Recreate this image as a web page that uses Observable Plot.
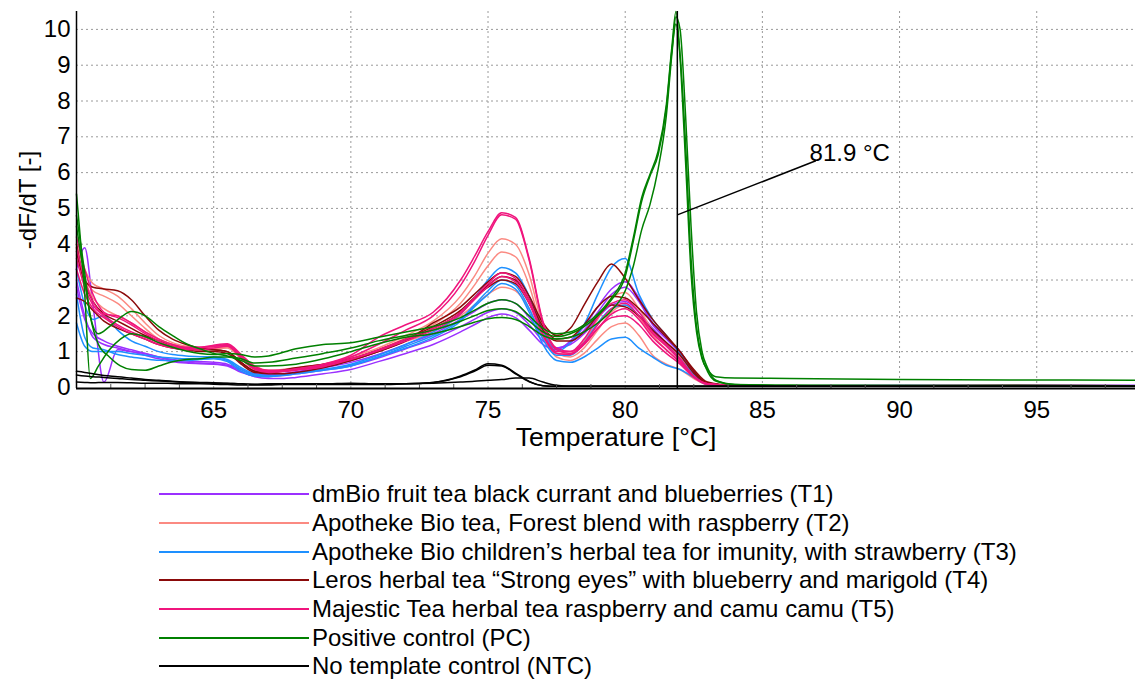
<!DOCTYPE html>
<html><head><meta charset="utf-8">
<script src="https://cdn.jsdelivr.net/npm/d3@7"></script>
<script src="https://cdn.jsdelivr.net/npm/@observablehq/plot@0.6"></script>
<style>
body{margin:0;background:#fff;font-family:"Liberation Sans",Arial,sans-serif;}
#legend{margin-top:20px;}
.row{display:flex;align-items:center;height:28.7px;font-size:24px;color:#000;white-space:nowrap;}
.sw{width:150px;height:2px;margin-left:159px;margin-right:3px;}
</style></head><body>
<div id="chart"></div>
<div id="legend"></div>
<script>
// ---- tick labels / categories ----
const xTicks = [65, 70, 75, 80, 85, 90, 95];
const yTicks = [0, 1, 2, 3, 4, 5, 6, 7, 8, 9, 10];
const minorTicks = [61.25, 62.5, 63.75, 66.25, 67.5, 68.75, 71.25, 72.5, 73.75, 76.25, 77.5, 78.75, 81.25, 82.5, 83.75, 86.25, 87.5, 88.75, 91.25, 92.5, 93.75, 96.25, 97.5];
const xLabel = "Temperature [\u00b0C]";
const yLabel = "-dF/dT [-]";
const groups = [
  "dmBio fruit tea black currant and blueberries (T1)",
  "Apotheke Bio tea, Forest blend with raspberry (T2)",
  "Apotheke Bio children\u2019s herbal tea for imunity, with strawberry (T3)",
  "Leros herbal tea \u201cStrong eyes\u201d with blueberry and marigold (T4)",
  "Majestic Tea herbal tea raspberry and camu camu (T5)",
  "Positive control (PC)",
  "No template control (NTC)"
];
const colors = ["#9b30ff", "#fb8a82", "#1e90ff", "#8b0a0a", "#f0157d", "#008000", "#000000"];

// ---- temperature grids ----
const temps = [60, 60.3, 60.6, 61, 61.5, 62, 62.5, 63, 63.5, 64, 64.5, 65, 65.5, 66, 66.5, 67, 67.5, 68, 69, 70, 71, 72, 73, 74, 74.5, 75, 75.5, 76, 76.5, 77, 77.5, 78, 78.5, 79, 79.5, 80, 80.5, 81, 81.5, 82, 82.5, 83, 84, 86, 90, 94, 98.6];
const pcTemps = [60, 60.3, 60.5, 60.8, 61.2, 61.6, 62, 62.5, 63, 63.5, 64, 64.5, 65, 65.5, 66, 66.5, 67, 68, 69, 70, 71, 72, 73, 74, 74.5, 75, 75.5, 76, 76.5, 77, 77.5, 78, 78.5, 79, 79.5, 80, 80.3, 80.6, 80.9, 81.2, 81.5, 81.7, 81.85, 82.0, 82.2, 82.4, 82.6, 82.8, 83.0, 83.3, 84, 86, 90, 94, 98.6];

// ---- series values (-dF/dT) ----
const t1a = [3.3, 3.9, 2.3, 0.15, 1.05, 1.0, 0.95, 0.85, 0.75, 0.7, 0.68, 0.66, 0.62, 0.45, 0.3, 0.25, 0.25, 0.28, 0.38, 0.5, 0.72, 0.95, 1.2, 1.55, 1.75, 1.95, 2.05, 1.95, 1.6, 1.2, 1.05, 1.3, 1.7, 2.25, 2.75, 2.95, 2.5, 1.8, 1.4, 1.0, 0.45, 0.12, 0.05, 0.05, 0.06, 0.05, 0.06];
const t1b = [3.0, 2.0, 1.4, 1.2, 1.1, 1.0, 0.9, 0.8, 0.72, 0.68, 0.66, 0.65, 0.6, 0.42, 0.32, 0.3, 0.33, 0.38, 0.48, 0.6, 0.82, 1.08, 1.35, 1.7, 1.9, 2.1, 2.2, 2.1, 1.75, 1.3, 1.1, 1.25, 1.6, 2.1, 2.6, 2.8, 2.4, 1.75, 1.35, 0.95, 0.42, 0.12, 0.05, 0.04, 0.05, 0.06, 0.05];
const t1c = [2.8, 1.9, 1.5, 1.3, 1.15, 1.05, 0.95, 0.85, 0.78, 0.74, 0.72, 0.7, 0.65, 0.5, 0.38, 0.36, 0.38, 0.44, 0.55, 0.7, 0.92, 1.2, 1.5, 1.9, 2.12, 2.35, 2.45, 2.35, 1.95, 1.4, 1.1, 1.2, 1.5, 1.95, 2.3, 2.4, 2.1, 1.65, 1.25, 0.85, 0.38, 0.1, 0.05, 0.05, 0.05, 0.05, 0.05];
const t2a = [4.0, 3.3, 2.9, 2.75, 2.55, 2.2, 1.8, 1.45, 1.25, 1.15, 1.1, 1.12, 1.18, 0.9, 0.6, 0.48, 0.48, 0.52, 0.65, 0.85, 1.1, 1.45, 1.85, 2.55, 3.1, 3.75, 4.15, 4.0, 3.15, 1.7, 0.95, 0.85, 1.1, 1.6, 2.1, 2.3, 1.95, 1.45, 1.05, 0.7, 0.3, 0.1, 0.05, 0.05, 0.05, 0.05, 0.05];
const t2b = [3.7, 3.0, 2.7, 2.55, 2.35, 2.0, 1.65, 1.35, 1.2, 1.12, 1.08, 1.1, 1.12, 0.82, 0.52, 0.45, 0.46, 0.5, 0.62, 0.8, 1.05, 1.38, 1.75, 2.35, 2.85, 3.4, 3.78, 3.65, 2.85, 1.55, 0.85, 0.75, 0.95, 1.35, 1.7, 1.8, 1.45, 0.9, 0.65, 0.5, 0.25, 0.08, 0.05, 0.05, 0.05, 0.05, 0.05];
const t2c = [3.9, 3.0, 2.5, 2.2, 2.0, 1.8, 1.55, 1.35, 1.2, 1.1, 1.05, 1.08, 1.1, 0.8, 0.5, 0.45, 0.5, 0.55, 0.65, 0.8, 1.02, 1.28, 1.55, 2.0, 2.3, 2.6, 2.8, 2.7, 2.2, 1.4, 0.95, 0.95, 1.3, 1.9, 2.5, 2.65, 2.2, 1.6, 1.2, 0.85, 0.35, 0.1, 0.05, 0.05, 0.05, 0.05, 0.05];
const t3a = [3.3, 2.3, 1.9, 2.0, 1.6, 1.3, 1.15, 1.0, 0.92, 0.88, 0.86, 0.85, 0.78, 0.55, 0.38, 0.33, 0.35, 0.4, 0.5, 0.65, 0.9, 1.2, 1.55, 2.05, 2.5, 3.0, 3.35, 3.2, 2.55, 1.6, 1.0, 1.25, 1.75, 2.6, 3.35, 3.6, 2.6, 1.9, 1.45, 0.95, 0.4, 0.12, 0.05, 0.04, 0.04, 0.05, 0.05];
const t3b = [1.8, 1.15, 1.0, 1.0, 1.0, 0.95, 0.9, 0.85, 0.82, 0.8, 0.8, 0.82, 0.75, 0.5, 0.35, 0.32, 0.35, 0.4, 0.5, 0.62, 0.85, 1.15, 1.45, 1.9, 2.3, 2.7, 3.0, 2.85, 2.2, 1.35, 0.9, 0.9, 1.25, 1.8, 2.2, 2.3, 2.0, 1.6, 1.2, 0.8, 0.35, 0.1, 0.05, 0.04, 0.05, 0.05, 0.05];
const t3c = [2.6, 1.4, 1.1, 1.05, 0.92, 0.85, 0.8, 0.76, 0.75, 0.75, 0.78, 0.8, 0.72, 0.45, 0.32, 0.3, 0.33, 0.38, 0.48, 0.6, 0.85, 1.1, 1.4, 1.85, 2.25, 2.6, 2.9, 2.75, 2.1, 1.2, 0.75, 0.7, 0.85, 1.1, 1.35, 1.4, 1.1, 0.85, 0.62, 0.5, 0.28, 0.08, 0.05, 0.04, 0.05, 0.05, 0.05];
const t4a = [4.0, 3.0, 2.8, 2.75, 2.7, 2.45, 2.0, 1.6, 1.35, 1.2, 1.1, 1.05, 1.0, 0.7, 0.45, 0.38, 0.38, 0.42, 0.55, 0.75, 1.0, 1.3, 1.8, 2.25, 2.6, 2.95, 3.2, 3.1, 2.55, 1.8, 1.45, 1.65, 2.3, 2.95, 3.45, 3.05, 2.45, 1.9, 1.45, 1.0, 0.5, 0.15, 0.05, 0.04, 0.04, 0.05, 0.05];
const t4b = [2.5, 2.4, 2.15, 1.85, 1.65, 1.5, 1.35, 1.2, 1.1, 1.05, 1.0, 1.0, 0.95, 0.65, 0.42, 0.4, 0.45, 0.5, 0.6, 0.75, 1.0, 1.3, 1.65, 2.1, 2.5, 2.85, 3.1, 3.0, 2.45, 1.7, 1.35, 1.4, 1.75, 2.25, 2.55, 2.5, 2.2, 1.8, 1.4, 1.0, 0.45, 0.12, 0.05, 0.04, 0.04, 0.05, 0.05];
const t4c = [3.8, 2.9, 2.4, 2.05, 1.85, 1.65, 1.45, 1.3, 1.15, 1.1, 1.05, 1.05, 1.0, 0.7, 0.45, 0.42, 0.48, 0.55, 0.65, 0.8, 1.05, 1.35, 1.7, 2.15, 2.5, 2.8, 3.0, 2.9, 2.35, 1.6, 1.3, 1.3, 1.55, 2.0, 2.3, 2.25, 2.0, 1.6, 1.25, 0.9, 0.4, 0.12, 0.05, 0.04, 0.04, 0.05, 0.05];
const t5a = [4.2, 3.3, 2.6, 2.1, 1.95, 1.75, 1.5, 1.3, 1.15, 1.1, 1.12, 1.18, 1.22, 0.92, 0.58, 0.48, 0.48, 0.52, 0.65, 0.9, 1.4, 1.75, 2.1, 3.0, 3.65, 4.35, 4.88, 4.75, 3.6, 1.85, 1.1, 1.0, 1.25, 1.75, 2.2, 2.35, 2.0, 1.5, 1.15, 0.75, 0.3, 0.1, 0.05, 0.05, 0.05, 0.06, 0.05];
const t5b = [3.9, 3.0, 2.4, 2.05, 2.0, 1.8, 1.55, 1.35, 1.2, 1.12, 1.12, 1.15, 1.2, 0.88, 0.55, 0.46, 0.47, 0.5, 0.62, 0.85, 1.2, 1.6, 2.0, 2.85, 3.5, 4.25, 4.82, 4.7, 3.55, 1.8, 1.05, 0.95, 1.2, 1.65, 2.05, 2.2, 1.9, 1.4, 1.05, 0.7, 0.3, 0.1, 0.05, 0.05, 0.05, 0.05, 0.05];
const t5c = [3.6, 2.8, 2.3, 2.0, 1.75, 1.55, 1.4, 1.25, 1.12, 1.08, 1.1, 1.15, 1.18, 0.85, 0.52, 0.44, 0.45, 0.5, 0.6, 0.8, 1.05, 1.35, 1.65, 2.1, 2.5, 2.9, 3.2, 3.05, 2.45, 1.5, 1.0, 1.0, 1.35, 1.95, 2.35, 2.45, 2.1, 1.55, 1.2, 0.8, 0.32, 0.1, 0.05, 0.05, 0.05, 0.05, 0.05];
const t5d = [3.3, 2.6, 2.2, 1.95, 1.7, 1.5, 1.35, 1.2, 1.1, 1.05, 1.05, 1.1, 1.15, 0.82, 0.5, 0.42, 0.44, 0.48, 0.58, 0.78, 1.02, 1.3, 1.6, 2.05, 2.45, 2.82, 3.1, 2.95, 2.35, 1.45, 0.95, 0.92, 1.2, 1.65, 1.95, 2.0, 1.75, 1.3, 0.95, 0.65, 0.28, 0.08, 0.05, 0.05, 0.05, 0.05, 0.05];
const ntcA = [0.45, 0.42, 0.38, 0.33, 0.3, 0.26, 0.22, 0.2, 0.17, 0.15, 0.14, 0.13, 0.12, 0.1, 0.09, 0.1, 0.1, 0.1, 0.1, 0.1, 0.1, 0.1, 0.14, 0.32, 0.48, 0.66, 0.62, 0.4, 0.17, 0.05, 0.03, 0.03, 0.03, 0.03, 0.03, 0.03, 0.03, 0.03, 0.03, 0.03, 0.03, 0.03, 0.03, 0.03, 0.03, 0.03, 0.03];
const ntcB = [0.35, 0.32, 0.3, 0.28, 0.25, 0.22, 0.2, 0.18, 0.16, 0.14, 0.13, 0.12, 0.11, 0.1, 0.08, 0.09, 0.09, 0.1, 0.1, 0.12, 0.1, 0.1, 0.14, 0.3, 0.45, 0.62, 0.6, 0.38, 0.16, 0.05, 0.03, 0.03, 0.03, 0.03, 0.03, 0.03, 0.03, 0.03, 0.03, 0.03, 0.03, 0.03, 0.03, 0.03, 0.03, 0.03, 0.03];
const ntcC = [0.15, 0.14, 0.13, 0.14, 0.14, 0.13, 0.12, 0.12, 0.11, 0.1, 0.1, 0.09, 0.08, 0.07, 0.07, 0.07, 0.08, 0.08, 0.08, 0.08, 0.08, 0.1, 0.12, 0.15, 0.17, 0.2, 0.22, 0.26, 0.26, 0.15, 0.06, 0.03, 0.03, 0.03, 0.03, 0.03, 0.03, 0.03, 0.03, 0.03, 0.03, 0.03, 0.03, 0.03, 0.03, 0.03, 0.03];
const pcA = [5.4, 2.6, 0.25, 0.6, 1.05, 1.35, 1.5, 1.42, 1.25, 1.12, 1.02, 0.95, 0.92, 0.95, 0.92, 0.85, 0.88, 1.08, 1.2, 1.25, 1.4, 1.55, 1.7, 1.95, 2.15, 2.35, 2.45, 2.35, 2.0, 1.65, 1.5, 1.55, 1.75, 2.05, 2.5, 3.2, 4.2, 5.3, 5.95, 6.6, 7.9, 9.5, 10.5, 9.2, 6.3, 3.2, 1.55, 0.8, 0.5, 0.3, 0.26, 0.25, 0.22, 0.21, 0.2];
const pcB = [4.8, 3.2, 2.0, 1.5, 1.7, 1.95, 2.12, 2.0, 1.7, 1.45, 1.22, 1.08, 0.95, 0.88, 0.8, 0.68, 0.7, 0.82, 0.95, 1.1, 1.3, 1.45, 1.6, 1.85, 2.0, 2.15, 2.2, 2.12, 1.85, 1.55, 1.42, 1.5, 1.7, 2.0, 2.45, 3.1, 4.1, 5.2, 5.9, 6.5, 7.8, 9.4, 10.15, 9.3, 6.8, 3.6, 1.7, 0.85, 0.45, 0.18, 0.08, 0.06, 0.06, 0.05, 0.05];
const pcC = [4.5, 3.0, 2.0, 1.2, 0.85, 0.6, 0.5, 0.48, 0.6, 0.72, 0.78, 0.8, 0.85, 0.85, 0.75, 0.6, 0.6, 0.65, 0.8, 1.0, 1.22, 1.4, 1.5, 1.7, 1.82, 1.92, 1.95, 1.9, 1.7, 1.45, 1.35, 1.4, 1.55, 1.8, 2.15, 2.7, 3.4, 4.4, 5.1, 6.1, 7.6, 9.3, 10.35, 10.0, 7.6, 4.5, 2.1, 1.0, 0.55, 0.2, 0.08, 0.06, 0.05, 0.06, 0.05];

// ---- melting-temperature marker ----
const meltTemp = 81.9;
const meltLabel = "81.9 \u00b0C";
const markerStart = {T: 81.9, v: 4.82};
const markerEnd = {T: 86.95, v: 6.33};
const labelPos = {T: 86.72, v: 6.33};

const series = [
  [0, temps, t1a], [0, temps, t1b], [0, temps, t1c],
  [1, temps, t2a], [1, temps, t2b], [1, temps, t2c],
  [2, temps, t3a], [2, temps, t3b], [2, temps, t3c],
  [3, temps, t4a], [3, temps, t4b], [3, temps, t4c],
  [4, temps, t5a], [4, temps, t5b], [4, temps, t5c], [4, temps, t5d],
  [5, pcTemps, pcA], [5, pcTemps, pcB], [5, pcTemps, pcC],
  [6, temps, ntcA], [6, temps, ntcB], [6, temps, ntcC]
];
const rows = series.flatMap(([g, ts, vs], id) => ts.map((t, i) => ({T: t, v: vs[i], id, grp: groups[g]})));

const xDomain = [60, 98.6];
const yDomain = [-0.03, 10.5];
const font = '"Liberation Sans", Arial, sans-serif';

const chart = Plot.plot({
  width: 1135, height: 460,
  marginLeft: 76, marginRight: 0, marginTop: 11, marginBottom: 72,
  style: {fontFamily: font, fontSize: "24px", color: "#000", background: "#fff", overflow: "visible"},
  x: {domain: xDomain, ticks: xTicks, tickSize: 0, tickPadding: 12, label: null},
  y: {domain: yDomain, ticks: yTicks, tickSize: 0, tickPadding: 6, label: yLabel, labelAnchor: "center", labelOffset: 58, labelArrow: false},
  color: {domain: groups, range: colors},
  marks: [
    Plot.gridX(xTicks, {stroke: "#9a9a9a", strokeOpacity: 1, strokeDasharray: "2,3"}),
    Plot.gridY(yTicks.slice(1), {stroke: "#9a9a9a", strokeOpacity: 1, strokeDasharray: "2,3"}),
    Plot.line(rows, {x: "T", y: "v", z: "id", stroke: "grp", strokeWidth: 1.5, curve: "monotone-x"}),
    Plot.ruleX([meltTemp], {stroke: "#000", strokeWidth: 1.5}),
    Plot.link([0], {x1: () => markerStart.T, y1: () => markerStart.v, x2: () => markerEnd.T, y2: () => markerEnd.v, stroke: "#000", strokeWidth: 1.5}),
    Plot.text([meltLabel], {x: () => labelPos.T, y: () => labelPos.v, text: d => d, textAnchor: "start", lineAnchor: "bottom", fontSize: 24, fill: "#000"}),
    Plot.text([xLabel], {frameAnchor: "bottom", text: d => d, dy: 49, dx: 10, lineAnchor: "middle", fontSize: 26.5, fill: "#000"}),
    Plot.tickX(minorTicks, {x: d => d, insetTop: 373, stroke: "#555"}),
    Plot.ruleX([xDomain[0]], {stroke: "#000", strokeWidth: 1.5}),
    Plot.ruleY([yDomain[0]], {stroke: "#000", strokeWidth: 2})
  ]
});
document.getElementById("chart").appendChild(chart);

const legend = document.getElementById("legend");
groups.forEach((g, i) => {
  const row = document.createElement("div");
  row.className = "row";
  const sw = document.createElement("span");
  sw.className = "sw";
  sw.style.background = colors[i];
  const tx = document.createElement("span");
  tx.textContent = g;
  row.appendChild(sw); row.appendChild(tx);
  legend.appendChild(row);
});
</script>
</body></html>
